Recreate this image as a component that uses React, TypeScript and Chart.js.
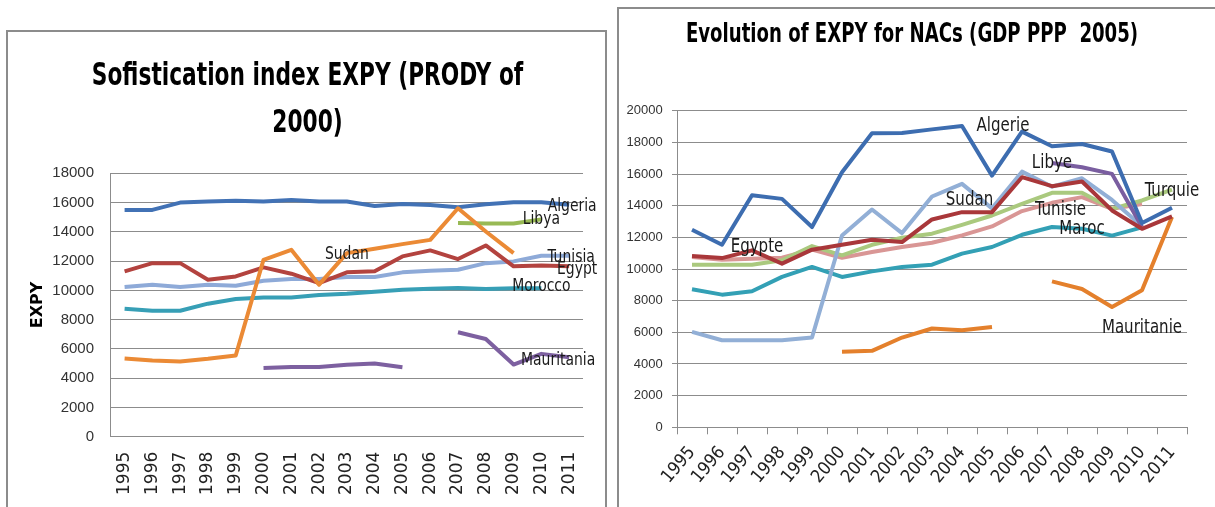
import React, { useEffect, useRef } from "react";
import { Chart, registerables } from "chart.js";

Chart.register(...registerables);

const YEARS = ["1995", "1996", "1997", "1998", "1999", "2000", "2001", "2002", "2003", "2004", "2005", "2006", "2007", "2008", "2009", "2010", "2011"];

// ---- Left chart: Sofistication index EXPY (PRODY of 2000)
const L_TITLE = ["Sofistication index EXPY (PRODY of", "2000)"];
const L_ALGERIA = [15500, 15500, 16000, 16070, 16130, 16070, 16180, 16070, 16070, 15770, 15900, 15840, 15680, 15890, 16020, 16020, 15850];
const L_LIBYA = [null, null, null, null, null, null, null, null, null, null, null, null, 14600, 14570, 14570, 14850, null];
const L_SUDAN = [5340, 5200, 5140, 5320, 5545, 12090, 12770, 10390, 12545, 12840, 13160, 13450, 15610, 14020, 12545, null, null];
const L_EGYPT = [11300, 11860, 11860, 10730, 10950, 11570, 11140, 10500, 11230, 11300, 12320, 12730, 12140, 13070, 11640, 11700, 11640];
const L_TUNISIA = [10230, 10390, 10230, 10390, 10320, 10660, 10770, 10770, 10910, 10910, 11230, 11340, 11410, 11860, 11980, 12360, 12360];
const L_MOROCCO = [8750, 8610, 8610, 9090, 9410, 9520, 9520, 9680, 9770, 9910, 10045, 10110, 10160, 10090, 10140, 10150, null];
const L_MAURITANIA = [null, null, null, null, null, 4700, 4770, 4770, 4910, 5000, 4750, null, 7140, 6680, 4930, 5660, 5430];

// ---- Right chart: Evolution of EXPY for NACs (GDP PPP 2005)
const R_TITLE = ["Evolution of EXPY for NACs (GDP PPP  2005)"];
const R_ALGERIE = [12480, 11530, 14660, 14430, 12650, 16110, 18570, 18590, 18820, 19030, 15900, 18680, 17750, 17900, 17420, 12900, 13870];
const R_EGYPTE = [10820, 10690, 11180, 10340, 11220, 11530, 11850, 11700, 13130, 13590, 13590, 15800, 15230, 15530, 13700, 12540, 13320];
const R_LIBYE = [null, null, null, null, null, null, null, null, null, null, null, null, 16700, 16430, 16010, 12650, null];
const R_SUDAN = [6030, 5500, 5500, 5500, 5670, 12120, 13760, 12270, 14580, 15380, 13830, 16150, 15200, 15730, 14360, 12700, null];
const R_TURQUIE = [10270, 10270, 10270, 10550, 11450, 10860, 11530, 11970, 12230, 12790, 13380, 14120, 14810, 14810, 13800, 14330, 15020];
const R_TUNISIE = [10760, 10590, 10650, 10710, 11220, 10710, 11070, 11390, 11660, 12120, 12690, 13660, 14180, 14540, 13800, 14100, null];
const R_MAROC = [8720, 8380, 8590, 9500, 10130, 9500, 9850, 10130, 10270, 10970, 11390, 12160, 12650, 12540, 12110, 12630, null];
const R_MAURITANIE = [null, null, null, null, null, 4770, 4830, 5670, 6240, 6130, 6340, null, 9220, 8740, 7600, 8660, 13280];

const COND = '"DejaVu Sans Condensed", "DejaVu Sans", sans-serif';
const GRID = "#8c8c8c";

function drawScaled(ctx: CanvasRenderingContext2D, text: string, x: number, y: number, sx: number) {
  ctx.save();
  ctx.translate(x, y);
  ctx.scale(sx, 1);
  ctx.fillText(text, 0, 0);
  ctx.restore();
}

// Title drawn with a horizontal compression (the source font is a narrow one)
const scaledTitlePlugin = {
  id: "scaledTitle",
  afterDraw(chart: any, _args: any, opts: any) {
    const ctx = chart.ctx as CanvasRenderingContext2D;
    ctx.save();
    ctx.font = opts.font;
    ctx.fillStyle = opts.color;
    ctx.textAlign = "center";
    ctx.textBaseline = "alphabetic";
    opts.lines.forEach((t: string, i: number) => {
      drawScaled(ctx, t, opts.x, opts.baseline + i * opts.lineGap, opts.sx);
    });
    ctx.restore();
  },
};

const pointLabelPlugin = {
  id: "pointLabels",
  afterDatasetsDraw(chart: any, _args: any, opts: any) {
    const ctx = chart.ctx as CanvasRenderingContext2D;
    ctx.save();
    ctx.font = opts.font;
    ctx.fillStyle = opts.color;
    ctx.textAlign = "center";
    ctx.textBaseline = "middle";
    for (const l of opts.items) {
      const el = chart.getDatasetMeta(l.ds).data[l.idx];
      if (!el) continue;
      drawScaled(ctx, l.text, el.x + l.dx, el.y + l.dy, opts.sx);
    }
    ctx.restore();
  },
};

function line(label: string, data: (number | null)[], color: string) {
  return {
    label,
    data,
    borderColor: color,
    backgroundColor: color,
    borderWidth: 4,
    pointRadius: 0,
    pointHoverRadius: 0,
    tension: 0,
    borderJoinStyle: "round" as const,
    borderCapStyle: "butt" as const,
    spanGaps: false,
  };
}

const plainTick = (v: any) => String(v);

export default function App() {
  const leftRef = useRef<HTMLCanvasElement>(null);
  const rightRef = useRef<HTMLCanvasElement>(null);

  useEffect(() => {
    const left = new Chart(leftRef.current!, {
      type: "line",
      data: {
        labels: YEARS,
        datasets: [
          line("Sudan", L_SUDAN, "#eb8a35"),
          line("Algeria", L_ALGERIA, "#4272b5"),
          line("Egypt", L_EGYPT, "#b3433f"),
          line("Libya", L_LIBYA, "#98b954"),
          line("Tunisia", L_TUNISIA, "#8eaad8"),
          line("Morocco", L_MOROCCO, "#379fb6"),
          line("Mauritania", L_MAURITANIA, "#7d60a0"),
        ],
      },
      plugins: [pointLabelPlugin, scaledTitlePlugin],
      options: {
        responsive: false,
        animation: false,
        events: [],
        layout: { padding: { left: 0, right: 15.7, top: 141.3, bottom: 0 } },
        plugins: {
          legend: { display: false },
          tooltip: { enabled: false },
          title: { display: false },
          scaledTitle: {
            lines: L_TITLE,
            font: `bold 32px ${COND}`,
            color: "#000",
            sx: 0.755,
            x: 299.5,
            baseline: 53,
            lineGap: 46.7,
          },
          pointLabels: {
            font: `18px ${COND}`,
            sx: 0.86,
            color: "#1a1a1a",
            items: [
              { ds: 1, idx: 16, text: "Algeria", dx: 3, dy: 2 },
              { ds: 3, idx: 15, text: "Libya", dx: 0, dy: 0 },
              { ds: 0, idx: 8, text: "Sudan", dx: 0, dy: 1 },
              { ds: 4, idx: 16, text: "Tunisia", dx: 2, dy: 1 },
              { ds: 2, idx: 16, text: "Egypt", dx: 8, dy: 3 },
              { ds: 5, idx: 15, text: "Morocco", dx: 0, dy: -1.5 },
              { ds: 6, idx: 16, text: "Mauritania", dx: -11, dy: 3 },
            ],
          },
        } as any,
        scales: {
          x: {
            type: "category",
            offset: true,
            grid: { drawOnChartArea: false, drawTicks: false, color: GRID },
            border: { display: true, color: GRID, width: 1 },
            ticks: {
              autoSkip: false,
              minRotation: 90,
              maxRotation: 90,
              padding: 15,
              color: "#222",
              font: { family: "DejaVu Sans", size: 17 },
            },
            afterFit: (s: any) => { s.height = 70.3; },
          },
          y: {
            min: 0,
            max: 18000,
            ticks: {
              stepSize: 2000,
              padding: 16.7,
              color: "#333",
              callback: plainTick,
              font: { family: "Liberation Sans", size: 15 },
            },
            grid: { color: GRID, drawTicks: false },
            border: { display: true, color: GRID, width: 1 },
            title: {
              display: true,
              text: "EXPY",
              color: "#000",
              font: { family: "DejaVu Sans", size: 16, weight: "bold", lineHeight: 1.2 },
              padding: { top: 20.4, bottom: 0 },
            },
            afterFit: (s: any) => { s.width = 102.7; },
          },
        },
      } as any,
    });

    const right = new Chart(rightRef.current!, {
      type: "line",
      data: {
        labels: YEARS,
        datasets: [
          line("Algerie", R_ALGERIE, "#3d6db0"),
          line("Egypte", R_EGYPTE, "#a9373a"),
          line("Libye", R_LIBYE, "#7a5ea0"),
          line("Sudan", R_SUDAN, "#92afd6"),
          line("Turquie", R_TURQUIE, "#aac97e"),
          line("Tunisie", R_TUNISIE, "#d99695"),
          line("Maroc", R_MAROC, "#33a0b5"),
          line("Mauritanie", R_MAURITANIE, "#e4802c"),
        ],
      },
      plugins: [pointLabelPlugin, scaledTitlePlugin],
      options: {
        responsive: false,
        animation: false,
        events: [],
        layout: { padding: { left: 0, right: 28, top: 101.7, bottom: 0 } },
        plugins: {
          legend: { display: false },
          tooltip: { enabled: false },
          title: { display: false },
          scaledTitle: {
            lines: R_TITLE,
            font: `bold 26px ${COND}`,
            color: "#000",
            sx: 0.775,
            x: 293,
            baseline: 33,
            lineGap: 0,
          },
          pointLabels: {
            font: `19px ${COND}`,
            sx: 0.88,
            color: "#1a1a1a",
            items: [
              { ds: 0, idx: 9, text: "Algerie", dx: 41, dy: 0 },
              { ds: 2, idx: 12, text: "Libye", dx: 0, dy: 0 },
              { ds: 3, idx: 9, text: "Sudan", dx: 7.5, dy: 16 },
              { ds: 5, idx: 12, text: "Tunisie", dx: 8.5, dy: 7 },
              { ds: 6, idx: 13, text: "Maroc", dx: 0, dy: 0 },
              { ds: 4, idx: 16, text: "Turquie", dx: 0, dy: 2 },
              { ds: 7, idx: 15, text: "Mauritanie", dx: 0, dy: 38 },
              { ds: 1, idx: 2, text: "Egypte", dx: 5, dy: -3 },
            ],
          },
        } as any,
        scales: {
          x: {
            type: "category",
            offset: true,
            grid: { offset: true, drawOnChartArea: false, drawTicks: true, tickLength: 7, color: GRID },
            border: { display: true, color: GRID, width: 1 },
            ticks: {
              autoSkip: false,
              minRotation: 50,
              maxRotation: 50,
              padding: 8,
              color: "#222",
              font: { family: COND, size: 18 },
            },
            afterFit: (s: any) => { s.height = 79.7; },
          },
          y: {
            min: 0,
            max: 20000,
            ticks: {
              stepSize: 2000,
              padding: 9.3,
              color: "#333",
              callback: plainTick,
              font: { family: "Liberation Sans", size: 13 },
            },
            grid: { color: GRID, drawTicks: true, tickLength: 5 },
            border: { display: true, color: GRID, width: 1 },
            afterFit: (s: any) => { s.width = 58; },
          },
        },
      } as any,
    });

    return () => {
      left.destroy();
      right.destroy();
    };
  }, []);

  return (
    <div style={{ position: "absolute", left: 0, top: 0, width: 1215, height: 507, overflow: "hidden", background: "#fff" }}>
      <div style={{ position: "absolute", left: 6, top: 30, width: 597, height: 600, border: "2px solid #8c8c8c", background: "#fff" }}>
        <canvas ref={leftRef} width={597} height={475} style={{ position: "absolute", left: 0, top: 0, width: 597, height: 475 }} />
      </div>
      <div style={{ position: "absolute", left: 617, top: 7, width: 700, height: 600, borderTop: "2px solid #8c8c8c", borderLeft: "2px solid #8c8c8c", background: "#fff" }}>
        <canvas ref={rightRef} width={596} height={498} style={{ position: "absolute", left: 0, top: 0, width: 596, height: 498 }} />
      </div>
    </div>
  );
}
